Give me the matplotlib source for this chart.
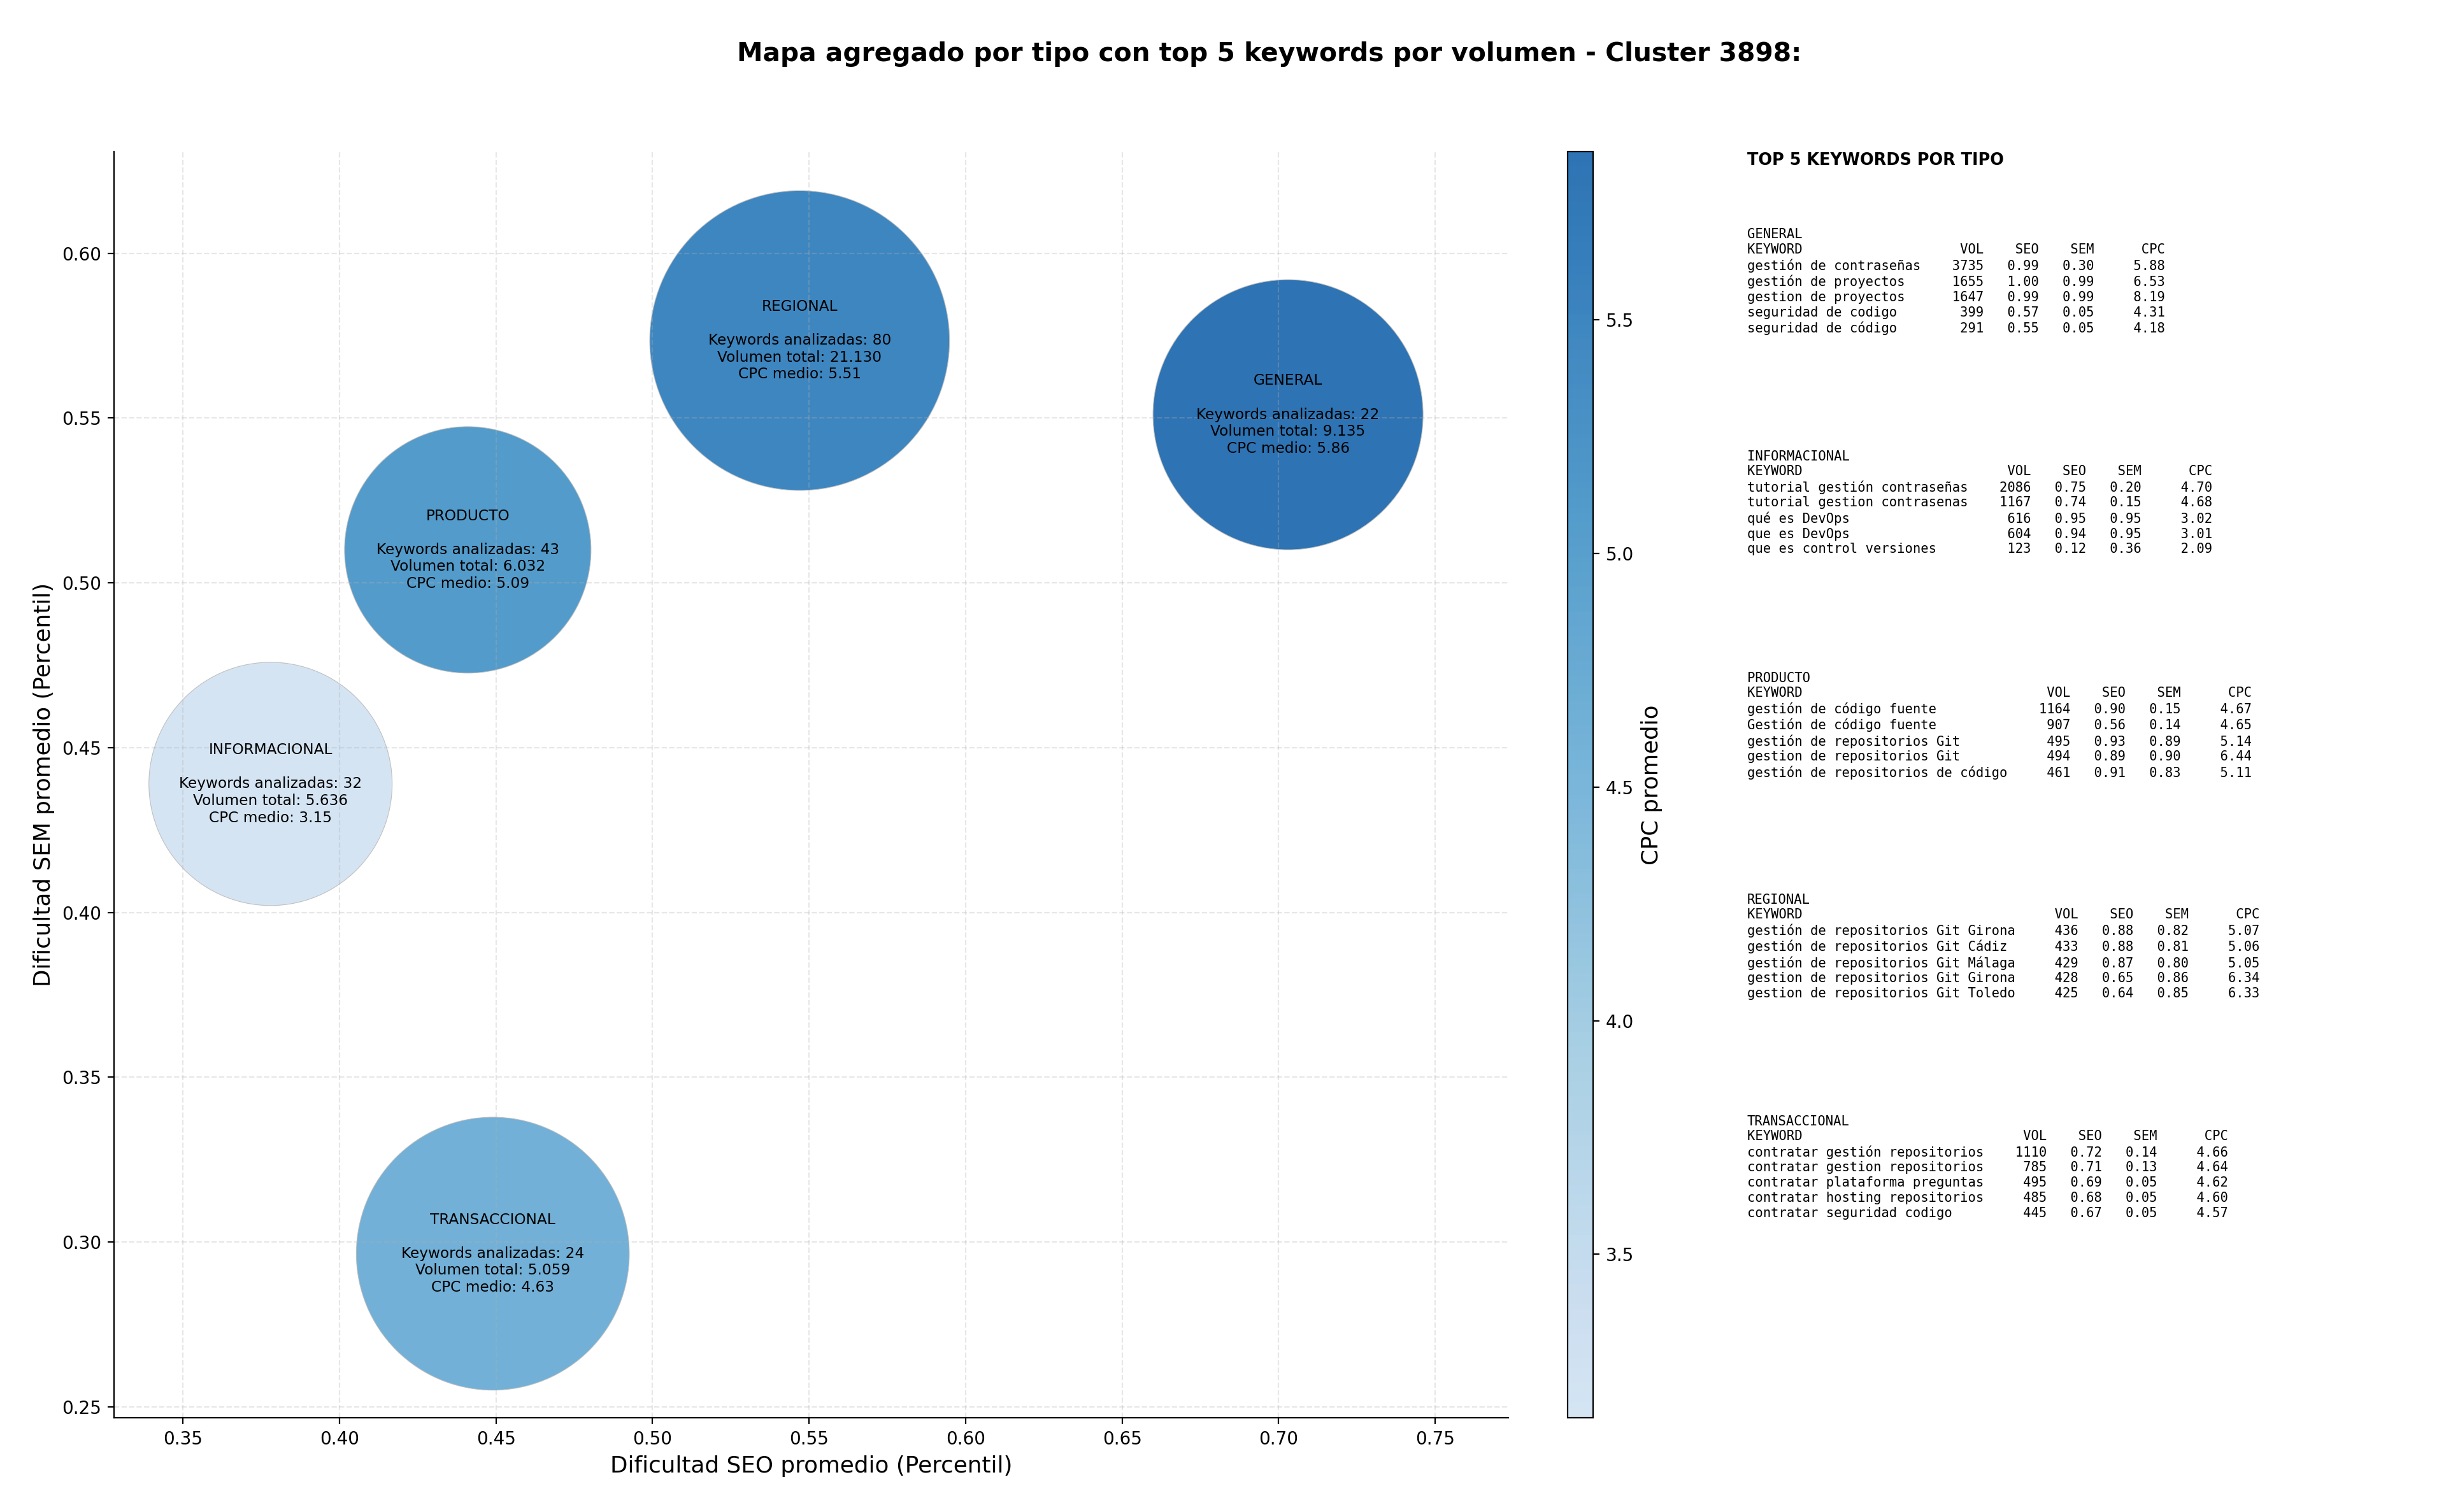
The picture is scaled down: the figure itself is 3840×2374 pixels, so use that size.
import numpy as np
import matplotlib
matplotlib.use("Agg")
import matplotlib.pyplot as plt
from matplotlib.colors import LinearSegmentedColormap, Normalize

# Datos agregados por tipo
tipos = ["REGIONAL", "GENERAL", "PRODUCTO", "INFORMACIONAL", "TRANSACCIONAL"]
seo_medio = [0.547, 0.703, 0.441, 0.378, 0.449]
sem_medio = [0.5735, 0.551, 0.510, 0.439, 0.2965]
cpc_medio = [5.51, 5.86, 5.09, 3.15, 4.63]
n_keywords = [80, 22, 43, 32, 24]
volumen_total = [21130, 9135, 6032, 5636, 5059]
bubble_size = [28700, 23300, 19400, 18900, 23800]

# Top 5 keywords por tipo
orden_tabla = ["GENERAL", "INFORMACIONAL", "PRODUCTO", "REGIONAL", "TRANSACCIONAL"]
top_kw = {
    "GENERAL": ["gestión de contraseñas", "gestión de proyectos", "gestion de proyectos",
                "seguridad de codigo", "seguridad de código"],
    "INFORMACIONAL": ["tutorial gestión contraseñas", "tutorial gestion contrasenas",
                      "qué es DevOps", "que es DevOps", "que es control versiones"],
    "PRODUCTO": ["gestión de código fuente", "Gestión de código fuente",
                 "gestión de repositorios Git", "gestion de repositorios Git",
                 "gestión de repositorios de código"],
    "REGIONAL": ["gestión de repositorios Git Girona", "gestión de repositorios Git Cádiz",
                 "gestión de repositorios Git Málaga", "gestion de repositorios Git Girona",
                 "gestion de repositorios Git Toledo"],
    "TRANSACCIONAL": ["contratar gestión repositorios", "contratar gestion repositorios",
                      "contratar plataforma preguntas", "contratar hosting repositorios",
                      "contratar seguridad codigo"],
}
top_vol = {
    "GENERAL": [3735, 1655, 1647, 399, 291],
    "INFORMACIONAL": [2086, 1167, 616, 604, 123],
    "PRODUCTO": [1164, 907, 495, 494, 461],
    "REGIONAL": [436, 433, 429, 428, 425],
    "TRANSACCIONAL": [1110, 785, 495, 485, 445],
}
top_seo = {
    "GENERAL": [0.99, 1.00, 0.99, 0.57, 0.55],
    "INFORMACIONAL": [0.75, 0.74, 0.95, 0.94, 0.12],
    "PRODUCTO": [0.90, 0.56, 0.93, 0.89, 0.91],
    "REGIONAL": [0.88, 0.88, 0.87, 0.65, 0.64],
    "TRANSACCIONAL": [0.72, 0.71, 0.69, 0.68, 0.67],
}
top_sem = {
    "GENERAL": [0.30, 0.99, 0.99, 0.05, 0.05],
    "INFORMACIONAL": [0.20, 0.15, 0.95, 0.95, 0.36],
    "PRODUCTO": [0.15, 0.14, 0.89, 0.90, 0.83],
    "REGIONAL": [0.82, 0.81, 0.80, 0.86, 0.85],
    "TRANSACCIONAL": [0.14, 0.13, 0.05, 0.05, 0.05],
}
top_cpc = {
    "GENERAL": [5.88, 6.53, 8.19, 4.31, 4.18],
    "INFORMACIONAL": [4.70, 4.68, 3.02, 3.01, 2.09],
    "PRODUCTO": [4.67, 4.65, 5.14, 6.44, 5.11],
    "REGIONAL": [5.07, 5.06, 5.05, 6.34, 6.33],
    "TRANSACCIONAL": [4.66, 4.64, 4.62, 4.60, 4.57],
}

# Colormap: Blues recortado
blues = plt.get_cmap("Blues")
cmap = LinearSegmentedColormap.from_list("blues_trunc", blues(np.linspace(0.2, 0.8, 256)))
norm = Normalize(vmin=min(cpc_medio), vmax=max(cpc_medio))

fig = plt.figure(figsize=(19.2, 11.87), dpi=200)
ax = fig.add_axes([0.0466, 0.0623, 0.5701, 0.8374])
cax = fig.add_axes([0.641, 0.0623, 0.0104, 0.8374])

sc = ax.scatter(seo_medio, sem_medio, s=bubble_size, c=cpc_medio, cmap=cmap, norm=norm,
                alpha=0.9, edgecolors="#bbbbbb", linewidths=0.4)

for i, t in enumerate(tipos):
    vol_txt = f"{volumen_total[i]:,}".replace(",", ".")
    label = (f"{t}\n\nKeywords analizadas: {n_keywords[i]}\n"
             f"Volumen total: {vol_txt}\nCPC medio: {cpc_medio[i]:.2f}")
    ax.text(seo_medio[i], sem_medio[i], label, ha="center", va="center", fontsize=8.4)

ax.set_xlim(0.328, 0.7734)
ax.set_ylim(0.2467, 0.6308)
ax.set_xticks(np.arange(0.35, 0.751, 0.05))
ax.set_yticks(np.arange(0.25, 0.601, 0.05))
ax.xaxis.set_major_formatter(matplotlib.ticker.FormatStrFormatter("%.2f"))
ax.yaxis.set_major_formatter(matplotlib.ticker.FormatStrFormatter("%.2f"))
ax.tick_params(labelsize=10)
ax.grid(True, linestyle="--", alpha=0.3)
ax.spines["top"].set_visible(False)
ax.spines["right"].set_visible(False)
ax.set_xlabel("Dificultad SEO promedio (Percentil)", fontsize=12.9)
ax.set_ylabel("Dificultad SEM promedio (Percentil)", fontsize=12.9)

cb = fig.colorbar(sc, cax=cax)
cb.set_label("CPC promedio", fontsize=12.8)
cb.ax.tick_params(labelsize=10)

fig.suptitle("Mapa agregado por tipo con top 5 keywords por volumen - Cluster 3898:",
             x=0.519, y=0.964, fontsize=14.7, fontweight="bold", va="center")

# Panel de texto con el top 5
fig.text(0.7143, 0.8937, "TOP 5 KEYWORDS POR TIPO", fontsize=9.2, fontweight="bold",
         va="center", ha="left")
for j, t in enumerate(orden_tabla):
    w = max(len(k) for k in top_kw[t])
    lines = [t, f"{'KEYWORD':<{w}}  {'VOL':>6}  {'SEO':>5}  {'SEM':>5}  {'CPC':>7}"]
    for k, v, s1, s2, c in zip(top_kw[t], top_vol[t], top_seo[t], top_sem[t], top_cpc[t]):
        lines.append(f"{k:<{w}}  {v:>6}  {s1:>5.2f}  {s2:>5.2f}  {c:>7.2f}")
    fig.text(0.7143, 0.8490 - j * 0.1466, "\n".join(lines), family="DejaVu Sans Mono",
             fontsize=7.4, va="top", ha="left", linespacing=1.23)

fig.savefig("out.png", dpi=200)
